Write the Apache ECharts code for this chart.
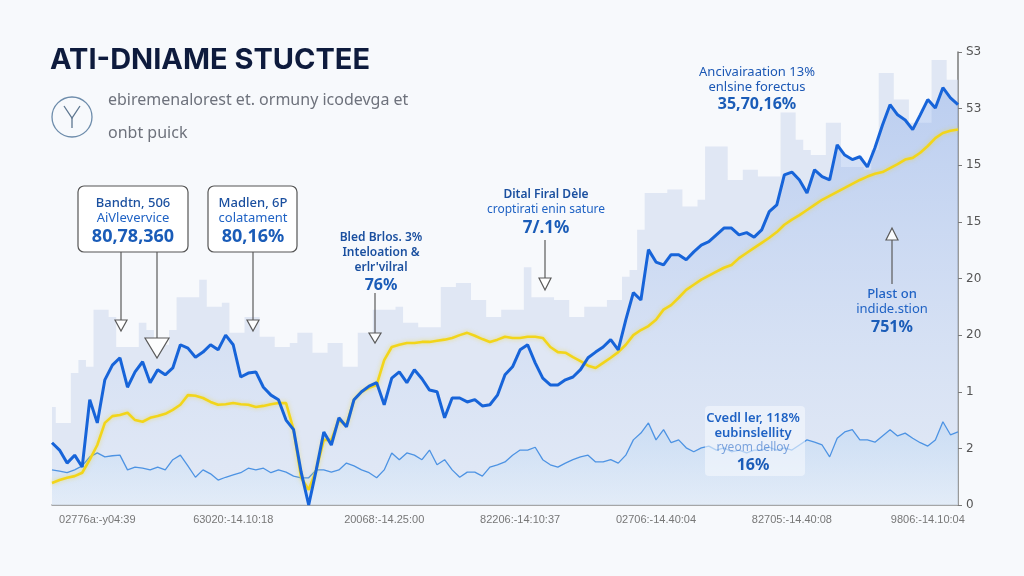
<!DOCTYPE html>
<html><head><meta charset="utf-8">
<script src="https://cdn.jsdelivr.net/npm/echarts@6/dist/echarts.min.js"></script>
<style>html,body{margin:0;padding:0;background:#f7f9fc;}#c{width:1024px;height:576px;}</style>
</head><body><div id="c"></div>
<script>
// ---- data ----
const xLabels = ["02776a:-y04:39","63020:-14.10:18","20068:-14.25:00","82206:-14:10:37","02706:-14.40:04","82705:-14.40:08","9806:-14.10:04"];
const labelIndices = [6,24,44,62,80,98,116];
const yTickLabels = ["0","2","1","20","20","15","15","53","S3"];

const mainValues = [1.10,0.97,0.74,0.88,0.67,1.86,1.45,2.21,2.47,2.60,2.08,2.35,2.53,2.16,2.39,2.30,2.42,2.83,2.77,2.61,
2.70,2.83,2.74,3.00,2.83,2.26,2.33,2.35,2.08,1.94,1.86,1.50,1.33,0.58,0.00,0.62,1.29,1.06,1.54,1.38,
1.86,2.00,2.10,2.16,1.77,2.24,2.35,2.16,2.39,2.23,2.03,2.00,1.54,1.89,1.89,1.82,1.86,1.75,1.77,1.94,
2.30,2.44,2.74,2.83,2.51,2.24,2.12,2.12,2.21,2.26,2.39,2.60,2.70,2.79,2.92,2.74,3.27,3.75,3.62,4.51,
4.29,4.24,4.42,4.42,4.33,4.47,4.59,4.65,4.77,4.89,4.89,4.77,4.81,4.73,4.86,5.18,5.30,5.83,5.88,5.74,
5.51,5.92,5.80,5.74,6.36,6.18,6.10,6.15,5.97,6.31,6.71,7.07,6.89,6.80,6.63,6.89,7.16,7.01,7.37,7.19,7.07];

const trendValues = [0.39,0.44,0.48,0.51,0.57,0.80,1.06,1.45,1.57,1.59,1.63,1.50,1.47,1.54,1.57,1.61,1.68,1.77,1.94,1.93,
1.89,1.82,1.77,1.78,1.80,1.78,1.77,1.73,1.75,1.78,1.80,1.80,1.33,0.48,0.27,0.62,1.15,1.15,1.50,1.41,
1.86,2.00,2.07,2.12,2.56,2.79,2.83,2.86,2.86,2.88,2.88,2.90,2.92,2.95,3.00,3.04,2.99,2.93,2.88,2.92,
2.97,2.95,2.95,2.97,2.97,2.95,2.79,2.70,2.69,2.61,2.54,2.46,2.42,2.51,2.60,2.70,2.83,3.00,3.09,3.16,
3.27,3.45,3.53,3.66,3.80,3.89,3.98,4.05,4.12,4.19,4.24,4.36,4.45,4.54,4.63,4.72,4.82,4.95,5.04,5.12,
5.21,5.30,5.39,5.46,5.53,5.60,5.67,5.74,5.80,5.85,5.88,5.95,6.02,6.10,6.13,6.22,6.34,6.48,6.57,6.61,6.63];

const baseValues = [0.62,0.60,0.57,0.62,0.69,0.85,0.92,0.85,0.87,0.88,0.62,0.67,0.65,0.62,0.67,0.62,0.80,0.88,0.69,0.49,
0.62,0.55,0.44,0.49,0.53,0.57,0.65,0.62,0.65,0.57,0.62,0.58,0.51,0.48,0.48,0.62,0.62,0.58,0.62,0.74,
0.69,0.62,0.57,0.48,0.62,0.92,0.80,0.92,0.88,0.80,0.97,0.71,0.80,0.62,0.49,0.58,0.58,0.51,0.67,0.71,
0.76,0.88,0.97,0.97,1.02,0.80,0.71,0.67,0.74,0.80,0.85,0.88,0.76,0.76,0.80,0.74,0.88,1.15,1.27,1.45,
1.15,1.33,1.10,1.15,1.01,0.94,1.01,1.04,0.97,1.01,0.94,0.97,0.92,0.97,0.97,1.02,0.97,1.01,0.97,1.06,
1.15,1.11,1.06,0.85,1.18,1.29,1.33,1.15,1.15,1.11,1.22,1.33,1.22,1.27,1.18,1.10,1.04,1.15,1.47,1.24,1.29];

const skylineValues = [1.73,1.45,1.45,2.33,2.56,2.44,3.45,3.45,3.32,2.79,2.79,2.79,3.22,3.09,2.92,2.83,3.09,3.67,3.67,3.67,
3.98,3.50,3.50,3.57,3.04,3.04,3.32,3.32,2.97,2.97,2.79,2.79,2.86,3.04,3.04,2.69,2.69,2.86,2.86,2.44,
2.44,3.04,3.04,3.45,3.45,3.45,3.50,3.22,3.22,3.14,3.14,3.14,3.85,3.85,3.92,3.92,3.62,3.62,3.32,3.32,
3.45,3.45,3.45,4.20,3.67,3.67,3.67,3.62,3.62,3.32,3.32,3.50,3.50,3.50,3.62,3.62,4.03,4.15,4.86,5.51,
5.51,5.51,5.57,5.57,5.27,5.27,5.39,6.33,6.33,6.33,5.74,5.74,5.92,5.92,5.80,5.80,5.80,6.93,6.93,6.45,
6.27,6.18,6.18,6.75,6.75,5.97,5.97,5.97,5.92,6.27,7.63,7.63,7.16,7.16,6.75,6.75,6.75,7.86,7.86,7.51,7.51];

const categories = mainValues.map((_, i) => String(i));

// ---- chart ----
const chart = echarts.init(document.getElementById('c'), null, {renderer: 'canvas'});
const G = echarts.graphic;
const annBlue = '#1f62c4', annDark = '#1a4f9f';
function t(x, y, text, font, fill, extra) {
  return Object.assign({type: 'text', x: x, y: y, z: 100,
    style: {text: text, font: font, fill: fill || annBlue, align: 'center', verticalAlign: 'middle'}}, extra || {});
}
function vline(x, y1, y2) {
  return {type: 'line', z: 100, shape: {x1: x, y1: y1, x2: x, y2: y2}, style: {stroke: '#5a5a5a', lineWidth: 1.2}};
}
function tri(pts) {
  return {type: 'polygon', z: 100, shape: {points: pts}, style: {fill: 'rgba(255,255,255,0.9)', stroke: '#5a5a5a', lineWidth: 1.2}};
}
const F = '"Noto Sans", "Liberation Sans", sans-serif';

const option = {
  animation: false,
  backgroundColor: '#f7f9fc',
  grid: {left: 52, right: 66, top: 52, bottom: 71},
  xAxis: {
    type: 'category', data: categories, boundaryGap: false,
    axisLine: {lineStyle: {color: '#8a8a8a', width: 1.5}},
    axisTick: {show: false},
    splitLine: {show: false},
    axisLabel: {
      interval: (idx) => labelIndices.indexOf(idx) >= 0,
      formatter: (v, idx) => { const k = labelIndices.indexOf(Number(v)); return k >= 0 ? xLabels[k] : ''; },
      color: '#777', fontSize: 11, margin: 9, fontFamily: 'Liberation Sans'
    }
  },
  yAxis: {
    type: 'value', position: 'right', min: 0, max: 8, interval: 1,
    splitLine: {show: false},
    axisLine: {show: true, lineStyle: {color: '#7a7a7a', width: 1.5}},
    axisTick: {show: true, length: 4, lineStyle: {color: '#7a7a7a'}},
    axisLabel: {formatter: (v) => yTickLabels[Math.round(v)], color: '#555', fontSize: 12, margin: 8, fontFamily: 'DejaVu Sans'}
  },
  series: [
    {type: 'line', name: 'skyline', data: skylineValues, step: 'middle', showSymbol: false, z: 1, silent: true,
      lineStyle: {width: 0}, areaStyle: {color: 'rgba(206,216,236,0.55)', opacity: 1}},
    {type: 'line', name: 'mainArea', data: mainValues, showSymbol: false, z: 2,
      lineStyle: {width: 0},
      areaStyle: {color: new G.LinearGradient(0, 0, 0, 1, [
        {offset: 0, color: 'rgba(120,160,232,0.50)'},
        {offset: 0.6, color: 'rgba(190,210,243,0.45)'},
        {offset: 1, color: 'rgba(230,238,250,0.35)'}])}},
    {type: 'line', name: 'base', data: baseValues, showSymbol: false, z: 3,
      lineStyle: {width: 1.3, color: '#4d93e3'},
      areaStyle: {color: new G.LinearGradient(0, 0, 0, 1, [
        {offset: 0, color: 'rgba(175,208,242,0.55)'},
        {offset: 1, color: 'rgba(228,240,251,0.6)'}])}},
    {type: 'line', name: 'trend', data: trendValues, showSymbol: false, z: 4,
      lineStyle: {width: 2.6, color: '#f2d51a', shadowColor: 'rgba(242,213,26,0.5)', shadowBlur: 4}},
    {type: 'line', name: 'main', data: mainValues, showSymbol: false, z: 5,
      lineStyle: {width: 3, color: '#1764d9'}}
  ],
  graphic: [
    {type: 'text', left: 50, top: 46, z: 100, style: {text: 'ATI-DNIAME STUCTEE', font: 'bold 29px Inter, "Noto Sans", sans-serif', fill: '#0e1b3d'}},
    {type: 'text', left: 108, top: 92, z: 100, style: {text: 'ebiremenalorest et. ormuny icodevga et', font: '16px ' + F, fill: '#6e727c'}},
    {type: 'text', left: 108, top: 125, z: 100, style: {text: 'onbt puick', font: '16px ' + F, fill: '#6e727c'}},
    {type: 'circle', z: 100, shape: {cx: 72, cy: 117, r: 20}, style: {fill: 'none', stroke: '#6d8cab', lineWidth: 1.3}},
    {type: 'polyline', z: 100, shape: {points: [[64, 106], [72, 118], [80, 106]]}, style: {fill: 'none', stroke: '#5d7690', lineWidth: 1.3}},
    {type: 'polyline', z: 100, shape: {points: [[72, 118], [72, 128]]}, style: {fill: 'none', stroke: '#5d7690', lineWidth: 1.3}},

    {type: 'rect', z: 99, shape: {x: 78, y: 186, width: 110, height: 66, r: 6}, style: {fill: '#ffffff', stroke: '#555', lineWidth: 1.2}},
    t(133, 203, 'Bandtn, 506', '500 13px ' + F, annDark),
    t(133, 218, 'AiVlevervice', '13px ' + F, annBlue),
    t(133, 237, '80,78,360', 'bold 18px ' + F, '#1a5cb8'),
    {type: 'rect', z: 99, shape: {x: 208, y: 186, width: 89, height: 66, r: 6}, style: {fill: '#ffffff', stroke: '#555', lineWidth: 1.2}},
    t(253, 203, 'Madlen, 6P', '500 13px ' + F, annDark),
    t(253, 218, 'colatament', '13px ' + F, annBlue),
    t(253, 237, '80,16%', 'bold 18px ' + F, '#1a5cb8'),
    vline(121, 252, 320), tri([[115, 320], [127, 320], [121, 331]]),
    vline(157, 252, 338), tri([[145, 338], [169, 338], [157, 358]]),
    vline(253, 252, 320), tri([[247, 320], [259, 320], [253, 331]]),

    t(381, 238, 'Bled Brlos. 3%', '600 12px ' + F, annDark),
    t(381, 253, 'Inteloation &', '600 12px ' + F, annDark),
    t(381, 268, "erlr'vilral", '600 12px ' + F, annDark),
    t(381, 285, '76%', 'bold 16px ' + F, '#1a5cb8'),
    vline(375, 293, 333), tri([[369, 333], [381, 333], [375, 343]]),

    t(546, 195, 'Dital Firal Dèle', '600 12px ' + F, annDark),
    t(546, 210, 'croptirati enin sature', '12px ' + F, annBlue),
    t(546, 228, '7/.1%', 'bold 17px ' + F, '#1a5cb8'),
    vline(545, 240, 278), tri([[539, 278], [551, 278], [545, 290]]),

    t(757, 72, 'Ancivairaation 13%', '13px ' + F, '#1c58b5'),
    t(757, 87, 'enlsine forectus', '13px ' + F, '#1c58b5'),
    t(757, 104, '35,70,16%', 'bold 16px ' + F, '#1a5cb8'),

    t(892, 294, 'Plast on', '500 13px ' + F, annBlue),
    t(892, 309, 'indide.stion', '13px ' + F, annBlue),
    t(892, 327, '751%', 'bold 16px ' + F, '#1a5cb8'),
    vline(892, 284, 240), tri([[886, 240], [898, 240], [892, 228]]),

    {type: 'rect', z: 98, shape: {x: 705, y: 406, width: 100, height: 70, r: 4}, style: {fill: 'rgba(245,249,254,0.6)'}},
    t(753, 418, 'Cvedl ler, 118%', '600 13px ' + F, annBlue),
    t(753, 433, 'eubinslellity', '600 13px ' + F, annBlue),
    t(753, 448, 'ryeom delloy', '12px ' + F, 'rgba(31,98,196,0.55)'),
    t(753, 465, '16%', 'bold 16px ' + F, '#1a5cb8')
  ]
};
chart.setOption(option);
</script>
</body></html>
